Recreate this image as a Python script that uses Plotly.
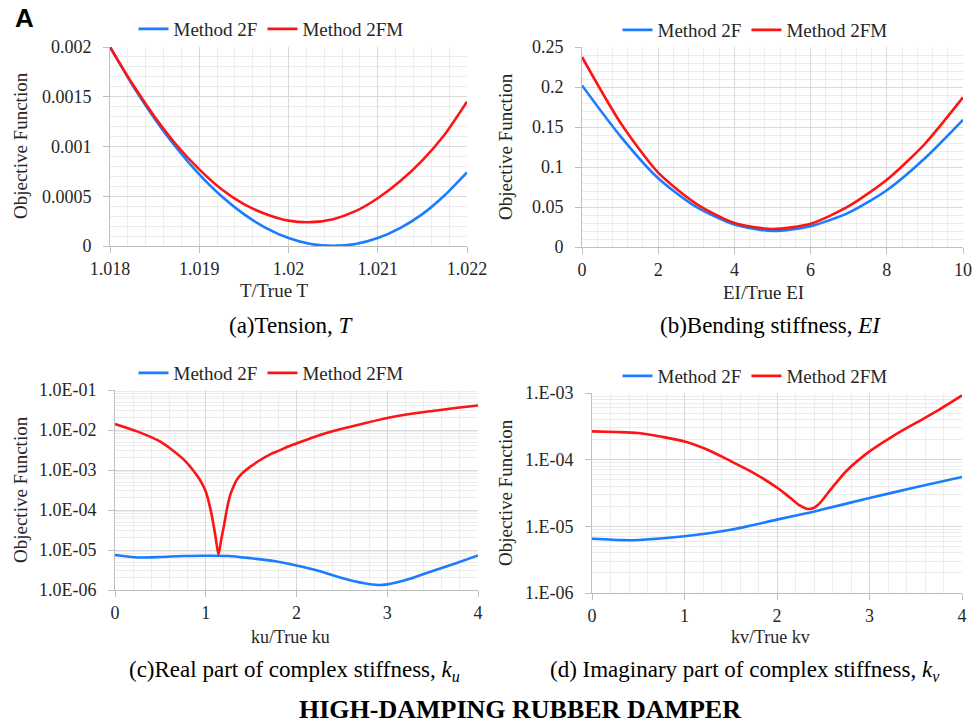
import plotly.graph_objects as go

W, H = 973, 727
BLUE = "#1a7cff"
RED = "#ff1414"
FONT = "Liberation Serif"

# ---------------- data ----------------
# (a) Tension
a_x = [1.018, 1.01825, 1.0185, 1.01875, 1.019, 1.01925, 1.0195, 1.01975, 1.020,
       1.02025, 1.0205, 1.02075, 1.021, 1.02125, 1.0215, 1.02175, 1.022]
a_2f = [0.00200, 0.00162, 0.00128, 0.00098, 0.00072, 0.00050, 0.00032, 0.00018, 0.00008,
        0.00002, 0.000003, 0.00002, 0.00008, 0.00018, 0.00032, 0.00051, 0.00074]
a_2fm = [0.00200, 0.00163, 0.00130, 0.00101, 0.00077, 0.00057, 0.00042, 0.00032, 0.000255,
         0.00024, 0.00027, 0.00035, 0.00048, 0.00065, 0.00086, 0.00112, 0.00145]

# (b) Bending stiffness
b_x = [0, 1, 2, 3, 4, 5, 6, 7, 8, 9, 10]
b_2f = [0.202, 0.139, 0.086, 0.050, 0.028, 0.020, 0.026, 0.043, 0.071, 0.111, 0.159]
b_2fm = [0.2375, 0.156, 0.093, 0.054, 0.030, 0.0225, 0.029, 0.051, 0.084, 0.129, 0.187]

# (c) Real part of complex stiffness
c_x_2f = [0, 0.25, 0.5, 0.75, 1.0, 1.25, 1.5, 1.75, 2.0, 2.25, 2.5, 2.75, 2.9, 3.0,
          3.25, 3.5, 3.75, 4.0]
c_2f = [7.5e-6, 6.5e-6, 6.7e-6, 7.1e-6, 7.2e-6, 7.1e-6, 6.2e-6, 5.3e-6, 4.1e-6, 3.0e-6,
        2.0e-6, 1.47e-6, 1.33e-6, 1.38e-6, 1.9e-6, 3.0e-6, 4.6e-6, 7.3e-6]
c_x_2fm = [0, 0.25, 0.5, 0.75, 0.9, 0.95, 1.0, 1.05, 1.08, 1.11, 1.14, 1.17, 1.2, 1.235,
           1.27, 1.3, 1.34, 1.4, 1.5, 1.6, 1.7, 1.8, 1.9, 2.0, 2.25, 2.5, 2.75, 3.0,
           3.25, 3.5, 3.75, 4.0]
c_2fm = [0.0141, 0.0091, 0.0051, 0.0019, 7.5e-4, 5.0e-4, 2.9e-4, 1.1e-4, 5.0e-5, 2.0e-5,
         7.7e-6, 1.8e-5, 4.0e-5, 1.1e-4, 2.4e-4, 3.6e-4, 5.6e-4, 8.2e-4, 1.25e-3, 1.78e-3,
         2.4e-3, 3.0e-3, 3.8e-3, 4.6e-3, 7.4e-3, 0.0107, 0.0148, 0.0200, 0.0251, 0.0300,
         0.0355, 0.0410]

# (d) Imaginary part of complex stiffness
d_x_2f = [0, 0.35, 0.5, 1.0, 1.5, 2.0, 2.33, 2.5, 3.0, 3.5, 4.0]
d_2f = [6.5e-6, 6.2e-6, 6.25e-6, 7.1e-6, 8.9e-6, 1.26e-5, 1.58e-5, 1.8e-5, 2.66e-5,
        3.85e-5, 5.5e-5]
d_x_2fm = [0, 0.25, 0.5, 0.75, 1.0, 1.25, 1.5, 1.75, 2.0, 2.15, 2.25, 2.33, 2.4, 2.47,
           2.55, 2.65, 2.75, 3.0, 3.25, 3.5, 3.75, 4.0]
d_2fm = [2.66e-4, 2.60e-4, 2.51e-4, 2.21e-4, 1.88e-4, 1.41e-4, 9.5e-5, 6.3e-5, 3.8e-5,
         2.63e-5, 2.04e-5, 1.82e-5, 1.9e-5, 2.29e-5, 3.16e-5, 4.68e-5, 6.76e-5, 1.33e-4,
         2.24e-4, 3.55e-4, 5.6e-4, 9.2e-4]

# tick labels
a_xticks = [1.018, 1.019, 1.020, 1.021, 1.022]
a_xtext = ["1.018", "1.019", "1.02", "1.021", "1.022"]
a_yticks = [0, 0.0005, 0.001, 0.0015, 0.002]
a_ytext = ["0", "0.0005", "0.001", "0.0015", "0.002"]
b_yticks = [0, 0.05, 0.1, 0.15, 0.2, 0.25]
b_ytext = ["0", "0.05", "0.1", "0.15", "0.2", "0.25"]
c_yticks = [1e-6, 1e-5, 1e-4, 1e-3, 1e-2, 1e-1]
c_ytext = ["1.0E-06", "1.0E-05", "1.0E-04", "1.0E-03", "1.0E-02", "1.0E-01"]
d_yticks = [1e-6, 1e-5, 1e-4, 1e-3]
d_ytext = ["1.E-06", "1.E-05", "1.E-04", "1.E-03"]

NAMES = ["Method 2F", "Method 2FM"]

fig = go.Figure()

def px_x(p):
    return p / W

def px_y(p):
    return 1 - p / H

panels = [
    ((110, 467), (47, 246)),
    ((582, 963), (47, 247)),
    ((115, 478), (390, 590)),
    ((592, 962), (393, 593)),
]

series = [
    (a_x, a_2f, a_x, a_2fm),
    (b_x, b_2f, b_x, b_2fm),
    (c_x_2f, c_2f, c_x_2fm, c_2fm),
    (d_x_2f, d_2f, d_x_2fm, d_2fm),
]

legend_names = ["legend", "legend2", "legend3", "legend4"]
for i, (x1, y1, x2, y2) in enumerate(series):
    sfx = "" if i == 0 else str(i + 1)
    for xs, ys, nm, col in ((x1, y1, NAMES[0], BLUE), (x2, y2, NAMES[1], RED)):
        fig.add_trace(go.Scatter(
            x=xs, y=ys, name=nm, mode="lines",
            line=dict(color=col, width=2.6, shape="spline", smoothing=0.7),
            xaxis="x" + sfx, yaxis="y" + sfx, legend=legend_names[i],
        ))

GRID = "#d9d9d9"
MINOR = "#ececec"
TICKF = dict(family=FONT, size=18, color="#262626")

def xax(dom, anchor, rng, dtick, minor_dtick, tickvals=None, ticktext=None):
    d = dict(domain=[px_x(dom[0]), px_x(dom[1])], anchor=anchor, range=rng,
             automargin=False,
             showgrid=True, gridcolor=GRID, gridwidth=1, zeroline=False,
             showline=True, linecolor="#bfbfbf", linewidth=1,
             ticks="outside", ticklen=6, tickcolor="#bfbfbf", tickfont=TICKF,
             minor=dict(dtick=minor_dtick, showgrid=True, gridcolor=MINOR, gridwidth=1,
                        ticks=""),
             ticklabelstandoff=0)
    if tickvals is not None:
        d.update(tickmode="array", tickvals=tickvals, ticktext=ticktext)
    else:
        d.update(dtick=dtick, tick0=0)
    return d

def yax(dom, anchor, rng, tickvals, ticktext, minor_dtick, log=False):
    d = dict(domain=[px_y(dom[1]), px_y(dom[0])], anchor=anchor, range=rng,
             automargin=False,
             showgrid=True, gridcolor=GRID, gridwidth=1, zeroline=False,
             showline=True, linecolor="#bfbfbf", linewidth=1,
             ticks="outside", ticklen=6, tickcolor="#bfbfbf", tickfont=TICKF,
             tickmode="array", tickvals=tickvals, ticktext=ticktext,
             minor=dict(dtick=minor_dtick, showgrid=True, gridcolor=MINOR, gridwidth=1,
                        ticks=""),
             ticklabelstandoff=8)
    if log:
        d["type"] = "log"
    return d

fig.update_layout(
    template="none",
    width=W, height=H, margin=dict(l=0, r=0, t=0, b=0, pad=0), autosize=False,
    paper_bgcolor="white", plot_bgcolor="white",
    font=dict(family=FONT, size=18, color="#262626"),
    xaxis=xax(panels[0][0], "y", [1.018, 1.022], None, 0.0002, a_xticks, a_xtext),
    yaxis=yax(panels[0][1], "x", [0, 0.002], a_yticks, a_ytext, 0.0001),
    xaxis2=xax(panels[1][0], "y2", [0, 10], 2, 0.4),
    yaxis2=yax(panels[1][1], "x2", [0, 0.25], b_yticks, b_ytext, 0.01),
    xaxis3=xax(panels[2][0], "y3", [0, 4], 1, 0.2),
    yaxis3=yax(panels[2][1], "x3", [-6, -1], c_yticks, c_ytext, "D1", log=True),
    xaxis4=xax(panels[3][0], "y4", [0, 4], 1, 0.2),
    yaxis4=yax(panels[3][1], "x4", [-6, -3], d_yticks, d_ytext, "D1", log=True),
    showlegend=True,
)

leg_common = dict(orientation="h", xanchor="center", yanchor="middle",
                  font=dict(family=FONT, size=19, color="#262626"),
                  bgcolor="rgba(0,0,0,0)", borderwidth=0, itemwidth=30,
                  tracegroupgap=0)
fig.update_layout(
    legend=dict(x=px_x(271), y=px_y(29), **leg_common),
    legend2=dict(x=px_x(755), y=px_y(30), **leg_common),
    legend3=dict(x=px_x(271), y=px_y(373), **leg_common),
    legend4=dict(x=px_x(755), y=px_y(376), **leg_common),
)

ann = []
def text(x, y, s, size=19, angle=0, family=FONT, color="#262626"):
    ann.append(dict(x=px_x(x), y=px_y(y), xref="paper", yref="paper", text=s,
                    showarrow=False, xanchor="center", yanchor="middle",
                    textangle=angle, font=dict(family=family, size=size, color=color)))

# axis titles
text(274, 290, "T/True T")
text(763, 292, "EI/True EI")
text(290, 637, "ku/True ku", size=18)
text(770, 637, "kv/True kv", size=18)
for (x, y) in ((20, 146), (505, 146), (20, 490), (505, 492)):
    text(x, y, "Objective Function", angle=-90)

# captions
text(291, 325, "(a)Tension, <i>T</i>", size=23, color="black")
text(770, 325, "(b)Bending stiffness, <i>EI</i>", size=23, color="black")
text(294, 671, "(c)Real part of complex stiffness, <i>k<sub>u</sub></i>", size=23, color="black")
text(745, 671, "(d) Imaginary part of complex stiffness, <i>k<sub>v</sub></i>", size=23, color="black")
text(520, 709, "<b>HIGH-DAMPING RUBBER DAMPER</b>", size=26, color="black")
text(24, 18, "<b>A</b>", size=26, family="Liberation Sans", color="black")

fig.update_layout(annotations=ann)
fig.write_html("out.html")
